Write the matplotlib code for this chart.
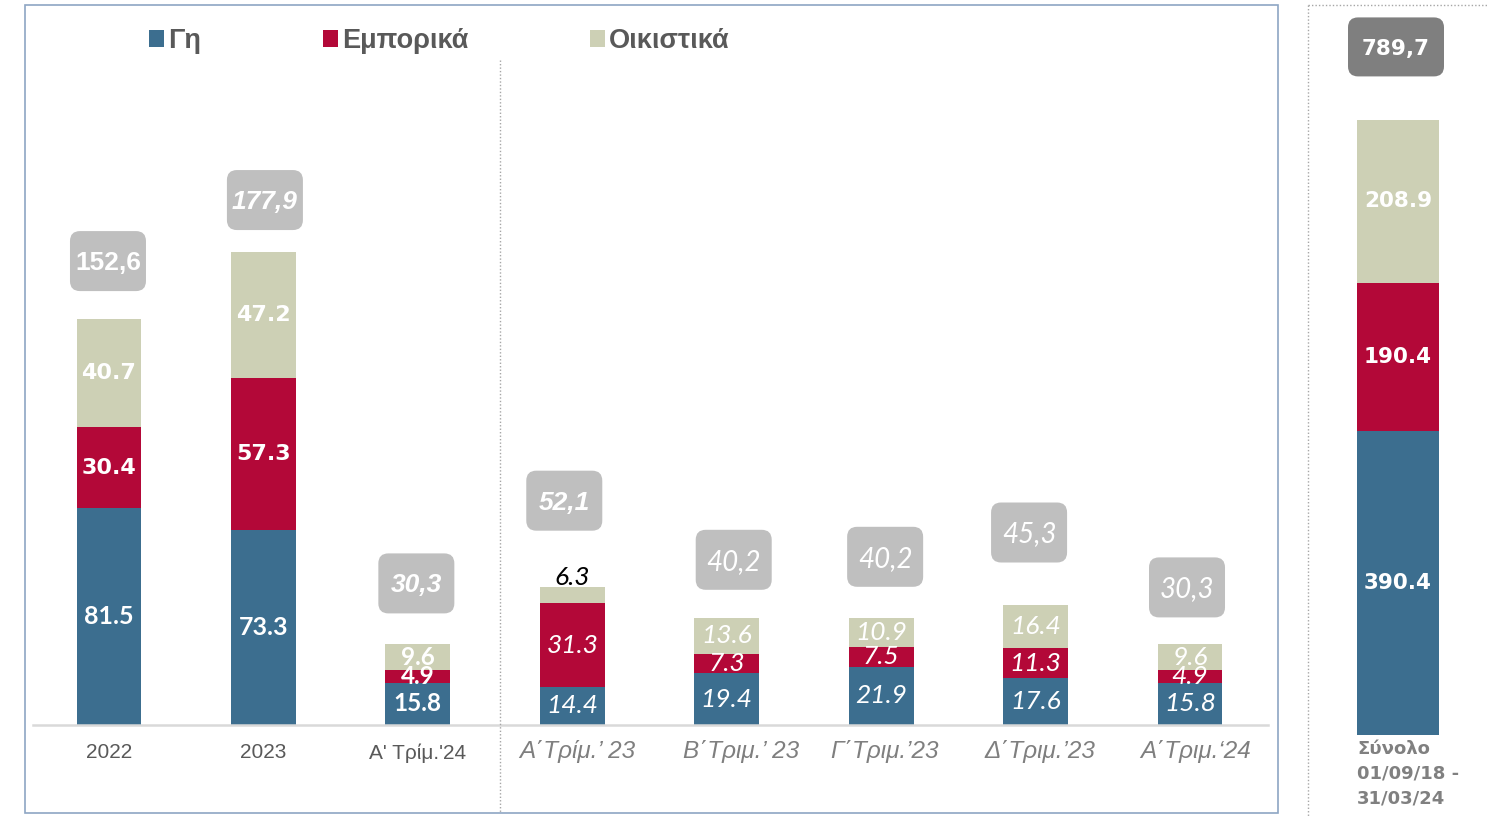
import matplotlib
matplotlib.use('Agg')
import numpy as np
import matplotlib.pyplot as plt
from matplotlib.patches import FancyBboxPatch, Rectangle
from matplotlib.lines import Line2D
import matplotlib.transforms as mtransforms

# ---------------- data ----------------
categories = ["2022", "2023", "Α' Τρίμ.'24", "Α΄Τρίμ.’ 23", "Β΄Τριμ.’ 23",
              "Γ΄Τριμ.’23", "Δ΄Τριμ.’23", "Α΄Τριμ.‘24"]
land = [81.5, 73.3, 15.8, 14.4, 19.4, 21.9, 17.6, 15.8]
commercial = [30.4, 57.3, 4.9, 31.3, 7.3, 7.5, 11.3, 4.9]
residential = [40.7, 47.2, 9.6, 6.3, 13.6, 10.9, 16.4, 9.6]
totals = ["152,6", "177,9", "30,3", "52,1", "40,2", "40,2", "45,3", "30,3"]
series_names = ["Γη", "Εμπορικά", "Οικιστικά"]

total_category = "Σύνολο\n01/09/18 -\n31/03/24"
total_land = [390.4]
total_commercial = [190.4]
total_residential = [208.9]
total_sum = "789,7"

# ---------------- style ----------------
BLUE = "#3C6E8F"
RED = "#B30838"
BEIGE = "#CDD0B5"
BOXGRAY = "#BFBFBF"
DARKBOX = "#7F7F7F"
TXT = "#595959"
W, H = 1488, 818

def fx(px):
    return px / W

def fy(py):
    return 1 - py / H

fig = plt.figure(figsize=(W / 100, H / 100), dpi=100)
fig.patch.set_facecolor("white")

# ---------------- main axes ----------------
ax = fig.add_axes([fx(33), fy(725), (1268 - 33) / W, 665 / H])
x = np.arange(len(categories))
bw = 0.42
bottom2 = np.add(land, commercial)
tops = bottom2 + np.array(residential)
b1 = ax.bar(x, land, bw, color=BLUE, label=series_names[0], zorder=2)
b2 = ax.bar(x, commercial, bw, bottom=land, color=RED, label=series_names[1], zorder=2)
b3 = ax.bar(x, residential, bw, bottom=bottom2, color=BEIGE, label=series_names[2], zorder=2)
ax.set_xlim(-0.492, 7.505)
ax.set_ylim(0, 250)
for s in ["top", "left", "right"]:
    ax.spines[s].set_visible(False)
ax.spines["bottom"].set_color("#D9D9D9")
ax.spines["bottom"].set_linewidth(1.8)
ax.set_yticks([])
# annual group as minor ticks (different padding), quarterly as major ticks
ax.set_xticks(x[:3], categories[:3], minor=True)
ax.set_xticks(x[3:], categories[3:])
ax.tick_params(axis="x", which="minor", length=0, pad=13)
ax.tick_params(axis="x", which="major", length=0, pad=10.5)
for lab in ax.get_xticklabels(minor=True):
    lab.set_fontfamily(["Liberation Sans", "DejaVu Sans"])
    lab.set_fontsize(15)
    lab.set_color(TXT)
tick_shift_px = [4.5, 14, 3, 4, 6]
for lab, dxp in zip(ax.get_xticklabels(), tick_shift_px):
    lab.set_fontfamily(["Liberation Sans", "DejaVu Sans"])
    lab.set_fontstyle("italic")
    lab.set_fontsize(17.5)
    lab.set_color("#7F7F7F")
    lab.set_transform(lab.get_transform() +
                      mtransforms.ScaledTranslation(dxp / 100, 0, fig.dpi_scale_trans))

# segment labels
seg_bottoms = [np.zeros(len(x)), np.array(land, float), bottom2]
seg_values = [land, commercial, residential]
for i in range(len(x)):
    for k in range(3):
        v = seg_values[k][i]
        yc = seg_bottoms[k][i] + v / 2
        if i < 2:
            if k == 0:
                fam, fw, fs, st = "Lato", "bold", 18, "normal"
            else:
                fam, fw, fs, st = "DejaVu Sans", "bold", 16, "normal"
        elif i == 2:
            fam, fw, fs, st = "Lato", "bold", 17.5, "normal"
        else:
            fam, fw, fs, st = "Lato", "normal", 19, "italic"
        if (i, k) == (3, 2):
            ax.annotate(f"{v:.1f}", xy=(x[i], tops[i]), xytext=(0, -2),
                        textcoords="offset points", ha="center", va="bottom",
                        fontsize=fs, family=fam, fontweight=fw, style=st,
                        color="black", zorder=5)
        else:
            ax.text(x[i], yc, f"{v:.1f}", ha="center", va="center",
                    fontsize=fs, family=fam, fontweight=fw, style=st,
                    color="white", zorder=5)

# total boxes
box_offsets_px = [58, 52, 61, 86, 58, 61, 72, 57]
box_shift_px = [-1, 1.5, -1.5, -8, 7, 4, -6.5, -3]
for i in range(len(x)):
    dy = box_offsets_px[i]
    dxp = box_shift_px[i]
    tr = fig.dpi_scale_trans + mtransforms.ScaledTranslation(x[i], tops[i], ax.transData)
    p = FancyBboxPatch((dxp / 100 - 0.38, dy / 100 - 0.30), 0.76, 0.60,
                       boxstyle="round,pad=0,rounding_size=0.1",
                       transform=tr, fc=BOXGRAY, ec="none", zorder=3, clip_on=False)
    ax.add_artist(p)
    if i == 0:
        fam, fw, st, fs = "Liberation Sans", "bold", "normal", 19
    elif i < 4:
        fam, fw, st, fs = "Liberation Sans", "bold", "italic", 19
    else:
        fam, fw, st, fs = "Lato", "normal", "italic", 20
    ax.annotate(totals[i], xy=(x[i], tops[i]), xytext=(dxp * 0.72, (dy - 2) * 0.72),
                textcoords="offset points", ha="center", va="center",
                fontsize=fs, family=fam, fontweight=fw, style=st,
                color="white", zorder=6, annotation_clip=False)

# legend
leg = fig.legend(handles=[b1, b2, b3], labels=series_names, ncol=3,
                 loc="upper left", bbox_to_anchor=(fx(149), fy(28)),
                 frameon=False, handlelength=0.55, handleheight=0.55,
                 handletextpad=0.15, columnspacing=4.5, borderpad=0,
                 borderaxespad=0,
                 prop={"family": "Liberation Sans", "weight": "bold", "size": 19.5},
                 labelcolor=TXT)

# ---------------- right panel ----------------
ax2 = fig.add_axes([fx(1318), fy(735), 160 / W, 701 / H])
rw = 0.5125
r_b2 = np.add(total_land, total_commercial)
ax2.bar([0], total_land, rw, color=BLUE)
ax2.bar([0], total_commercial, rw, bottom=total_land, color=RED)
ax2.bar([0], total_residential, rw, bottom=r_b2, color=BEIGE)
ax2.set_xlim(-0.5, 0.5)
ax2.set_ylim(0, 900)
ax2.axis("off")
r_bottoms = [0, total_land[0], r_b2[0]]
r_vals = [total_land[0], total_commercial[0], total_residential[0]]
for k in range(3):
    ax2.text(0, r_bottoms[k] + r_vals[k] / 2, f"{r_vals[k]:.1f}", ha="center",
             va="center", fontsize=15.5, family="DejaVu Sans", fontweight="bold",
             color="white", zorder=5)
r_top = r_b2[0] + total_residential[0]
dy = 73
tr = fig.dpi_scale_trans + mtransforms.ScaledTranslation(0, r_top, ax2.transData)
p = FancyBboxPatch((-0.50, dy / 100 - 0.295), 0.96, 0.59,
                   boxstyle="round,pad=0,rounding_size=0.1",
                   transform=tr, fc=DARKBOX, ec="none", zorder=3, clip_on=False)
ax2.add_artist(p)
ax2.annotate(total_sum, xy=(0, r_top), xytext=(-1.5, (dy - 2) * 0.72),
             textcoords="offset points", ha="center", va="center",
             fontsize=15.5, family="DejaVu Sans", fontweight="bold",
             color="white", zorder=6, annotation_clip=False)
ax2.annotate(total_category, xy=(-rw / 2, 0), xytext=(0, -3.5),
             textcoords="offset points", ha="left", va="top",
             fontsize=13, family="DejaVu Sans", fontweight="bold",
             color="#808080", linespacing=1.5, annotation_clip=False)

# ---------------- frames ----------------
fig.add_artist(Rectangle((fx(25), fy(813)), (1278 - 25) / W, (813 - 5) / H,
                         transform=fig.transFigure, fill=False,
                         ec="#8EA6C4", lw=1.2))
dot = dict(transform=fig.transFigure, color="#A6A6A6", lw=1, ls=(0, (1, 1.5)))
fig.add_artist(Line2D([fx(500), fx(500)], [fy(60), fy(813)], **dot))
fig.add_artist(Line2D([fx(1308), fx(1308)], [fy(5), 0], **dot))
fig.add_artist(Line2D([fx(1308), 1], [fy(5), fy(5)], **dot))

fig.savefig("out.png", dpi=100)
